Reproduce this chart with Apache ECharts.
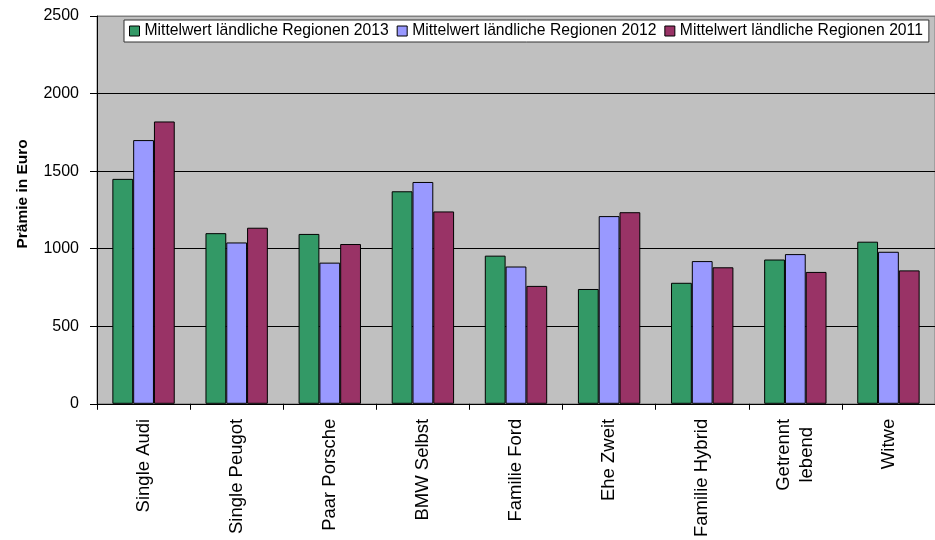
<!DOCTYPE html>
<html>
<head>
<meta charset="utf-8">
<script src="https://cdn.jsdelivr.net/npm/echarts@6/dist/echarts.min.js"></script>
<style>
html,body{margin:0;padding:0;background:#fff;}
#chart{width:935px;height:540px;}
</style>
</head>
<body>
<div id="chart"></div>
<script>
const categories = ['Single Audi','Single Peugot','Paar Porsche','BMW Selbst','Familie Ford','Ehe Zweit','Familie Hybrid','Getrennt\nlebend','Witwe'];
const seriesNames = ['Mittelwert ländliche Regionen 2013','Mittelwert ländliche Regionen 2012','Mittelwert ländliche Regionen 2011'];
const values2013 = [1450,1100,1095,1370,955,740,780,930,1045];
const values2012 = [1700,1040,910,1430,885,1210,920,965,980];
const values2011 = [1820,1135,1030,1240,760,1235,880,850,860];
const yTicks = [0,500,1000,1500,2000,2500];
const colors = ['#339966','#9999FF','#993366'];

const FONT = '"Liberation Sans", Arial, sans-serif';
const chart = echarts.init(document.getElementById('chart'), null, {renderer:'canvas'});
const allValues = [values2013, values2012, values2011];
chart.setOption({
  animation:false,
  textStyle:{fontFamily:FONT},
  legend:{
    left:124, top:20,
    padding:[3,6,3,5],
    itemWidth:10, itemHeight:10, itemGap:8,
    backgroundColor:'#fff', borderColor:'#333', borderWidth:1,
    textStyle:{fontSize:15.7, color:'#000', fontFamily:FONT},
    data:seriesNames.map((n,i)=>({name:n, icon:'rect', itemStyle:{color:colors[i], borderColor:'#000', borderWidth:1}}))
  },
  grid:{left:97, top:16, width:848, bottom:133.5, show:true, backgroundColor:'#C0C0C0', borderColor:'#808080', borderWidth:1},
  xAxis:{
    type:'category', data:categories,
    axisLine:{lineStyle:{color:'#000', width:1}},
    axisTick:{show:true, length:6, lineStyle:{color:'#000'}},
    axisLabel:{
      rotate:90, margin:15, fontSize:18.5, color:'#000', fontFamily:FONT,
      formatter:v=>v.split('\n').map(s=>'{c|'+s+'}').join('\n'),
      rich:{c:{align:'center', fontSize:18.5, lineHeight:23, color:'#000', fontFamily:FONT}}
    }
  },
  yAxis:{
    type:'value', min:yTicks[0], max:yTicks[yTicks.length-1], interval:500,
    name:'Prämie in Euro', nameLocation:'middle', nameGap:66, nameRotate:90,
    nameTextStyle:{fontSize:15.5, fontWeight:'bold', color:'#000', fontFamily:FONT, padding:[0,0,0,32]},
    axisLine:{show:true, lineStyle:{color:'#000'}},
    axisTick:{show:true, inside:false, length:7, lineStyle:{color:'#000', width:1}},
    axisLabel:{fontSize:16, color:'#000', margin:18, fontFamily:FONT, formatter:v=>String(v)},
    splitLine:{show:true, lineStyle:{color:['#000','#000','#000','#000','#000','#808080'], width:1}}
  },
  series:allValues.map((vals,i)=>({
    name:seriesNames[i], type:'bar', data:vals,
    barGap:'0%', barCategoryGap:'33%',
    itemStyle:{color:colors[i], borderColor:'#000', borderWidth:1}
  }))
});
</script>
</body>
</html>
